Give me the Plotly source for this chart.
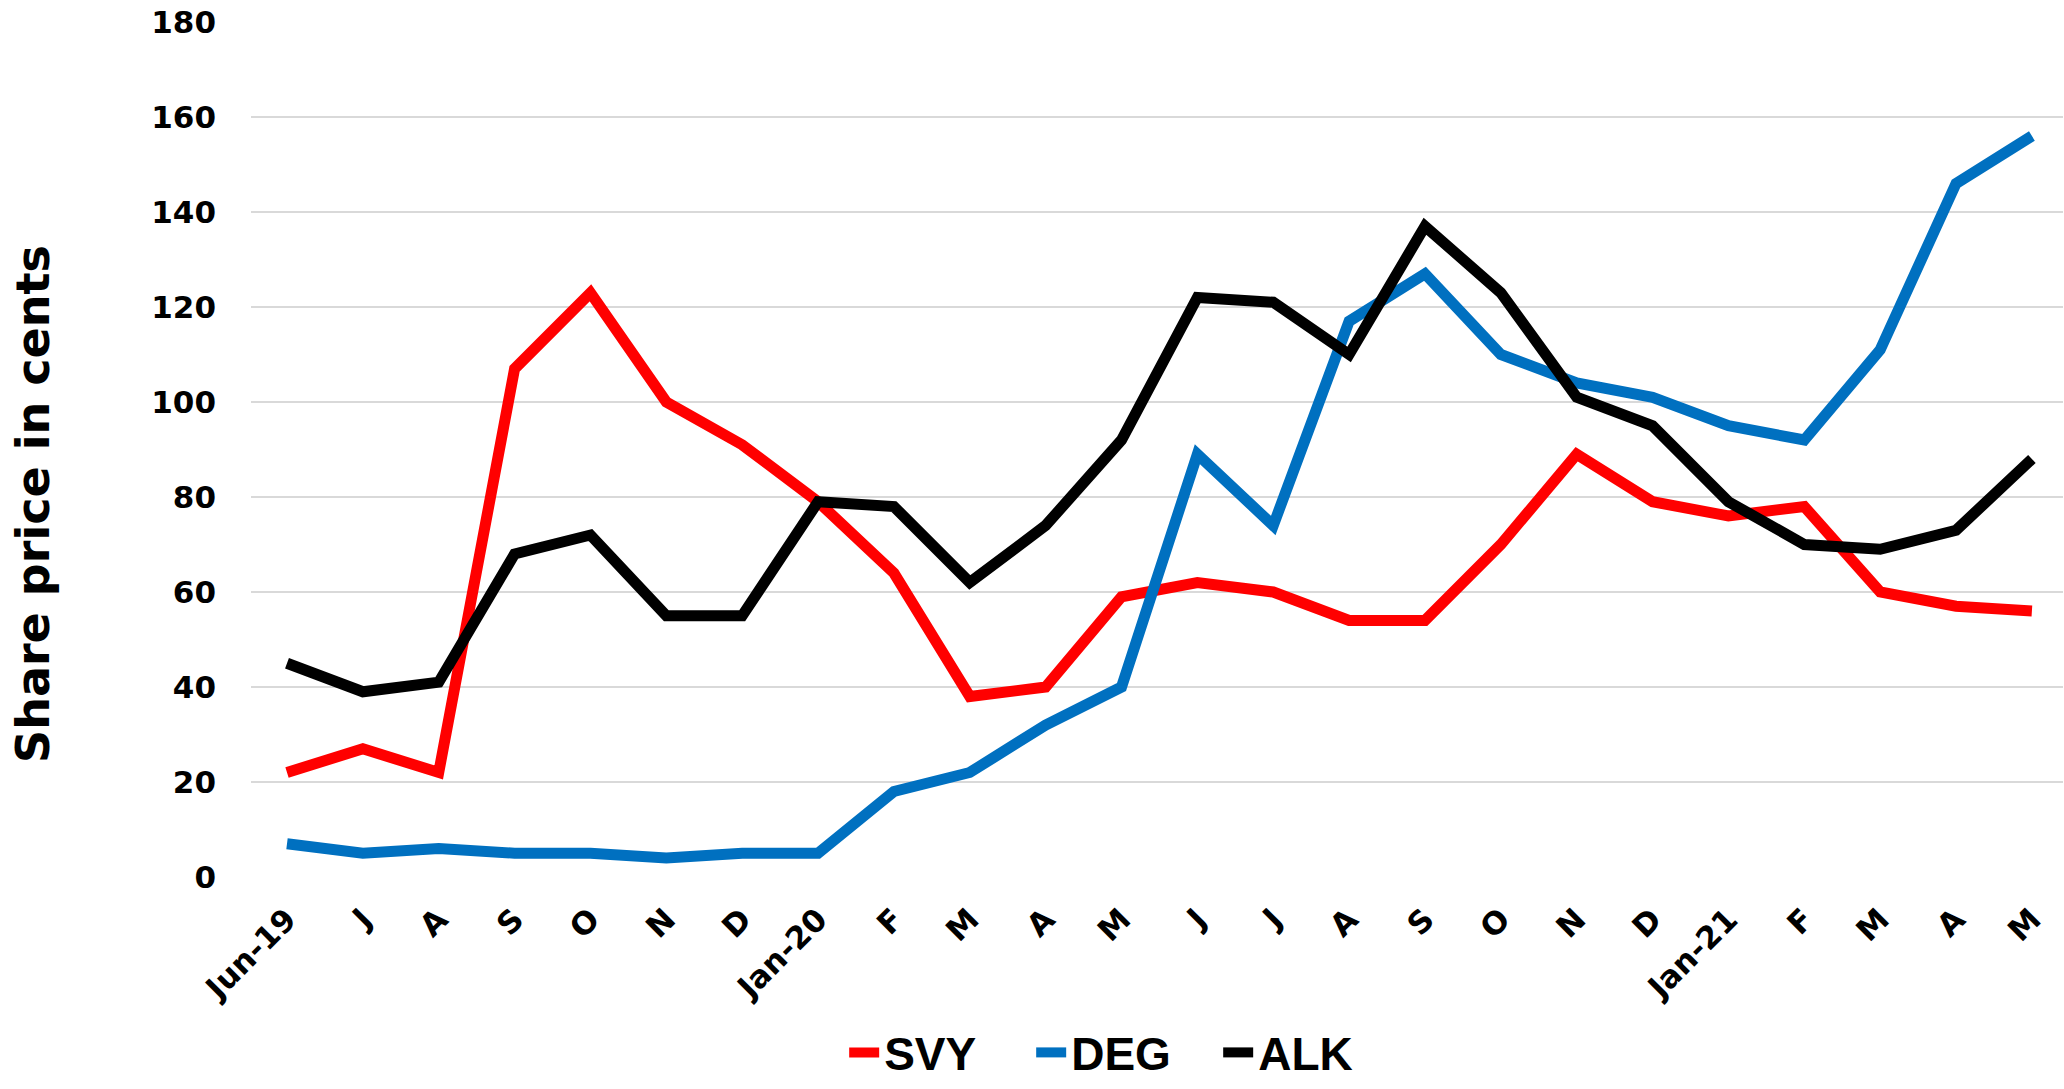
import plotly.graph_objects as go

months = ["Jun-19", "J", "A", "S", "O", "N", "D", "Jan-20", "F", "M", "A", "M",
          "J", "J", "A", "S", "O", "N", "D", "Jan-21", "F", "M", "A", "M"]

svy = [22, 27, 22, 107, 123, 100, 91, 79, 64, 38, 40, 59,
       62, 60, 54, 54, 70, 89, 79, 76, 78, 60, 57, 56]
deg = [7, 5, 6, 5, 5, 4, 5, 5, 18, 22, 32, 40,
       89, 74, 117, 127, 110, 104, 101, 95, 92, 111, 146, 156]
alk = [45, 39, 41, 68, 72, 55, 55, 79, 78, 62, 74, 92,
       122, 121, 110, 137, 123, 101, 95, 79, 70, 69, 73, 88]

y_ticks = [0, 20, 40, 60, 80, 100, 120, 140, 160, 180]

x_idx = list(range(len(months)))

series = [("SVY", svy, "#FF0000"), ("DEG", deg, "#0070C0"), ("ALK", alk, "#000000")]

fig = go.Figure()
for name, vals, col in series:
    fig.add_trace(go.Scatter(
        x=x_idx, y=vals, name=name, mode="lines",
        line=dict(color=col, width=11),
    ))

tick_font = dict(family="DejaVu Sans", size=31, color="#000000", weight="bold")

fig.update_layout(
    width=2064, height=1089,
    paper_bgcolor="white", plot_bgcolor="white",
    margin=dict(l=251, r=1, t=22, b=212),
    showlegend=True,
    legend=dict(
        orientation="h", xref="container", yref="container",
        x=0.409, y=-0.012, xanchor="left", yanchor="bottom",
        font=dict(family="Liberation Sans", size=46, color="#000000", weight="bold"),
        entrywidth=142, entrywidthmode="pixels",
        tracegroupgap=0,
    ),
    xaxis=dict(
        tickmode="array", tickvals=x_idx, ticktext=months,
        range=[-0.4745, 23.41],
        tickangle=-45, tickfont=tick_font,
        showgrid=False, zeroline=False, showline=False,
        ticks="", ticklabelstandoff=17, automargin=False,
    ),
    yaxis=dict(
        range=[0, 180], tickmode="array", tickvals=y_ticks,
        tickfont=dict(family="DejaVu Sans", size=31, color="#000000", weight="bold"),
        showgrid=True, gridcolor="#D9D9D9", gridwidth=2,
        zeroline=False, showline=False, ticks="",
        ticklabelstandoff=34, automargin=False,
    ),
    annotations=[dict(
        text="Share price in cents", textangle=-90,
        xref="paper", yref="paper",
        x=(33 - 251) / 1812, y=(877 - 504) / 855,
        xanchor="center", yanchor="middle", showarrow=False,
        font=dict(family="DejaVu Sans", size=46, color="#000000", weight="bold"),
    )],
)

fig.write_html("out.html", config={"displayModeBar": False},
               post_script="document.body.style.margin='0';")
